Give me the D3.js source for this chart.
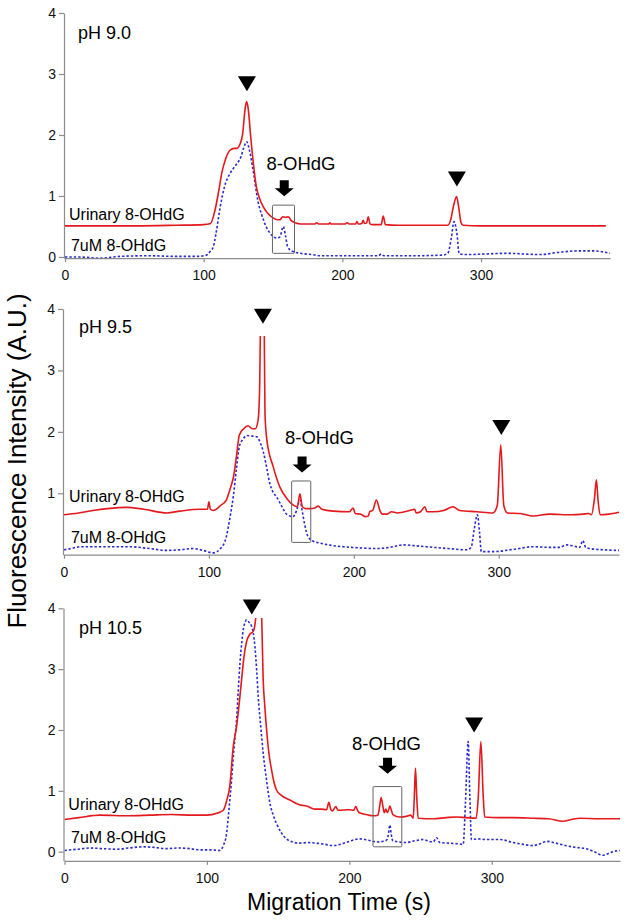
<!DOCTYPE html>
<html>
<head>
<meta charset="utf-8">
<script src="https://cdn.jsdelivr.net/npm/d3@7"></script>
<style>
  body { margin: 0; background: #fff; }
  svg { display: block; font-family: "Liberation Sans", Arial, sans-serif; }
  .axis path, .axis line { stroke: #8c8c8c; stroke-width: 1.2; }
  .axis text { fill: #111; font-size: 14px; }
  .urinary { fill: none; stroke: #e3191c; stroke-width: 1.6; }
  .standard { fill: none; stroke: #2a2ad0; stroke-width: 1.6; stroke-dasharray: 2.4,2; }
  .box { fill: none; stroke: #666; stroke-width: 1; }
</style>
</head>
<body>
<svg class="chart" width="629" height="922"></svg>
<script>
// ---- data: [migration time (s), fluorescence (A.U.)] ----
const xTicks = [0, 100, 200, 300];

const urinary90 = [[0,0.51],[20,0.51],[50,0.51],[80,0.52],[100,0.53],[105,0.55],[108,0.75],[111,1.1],[113,1.37],[116,1.62],[119,1.75],[122,1.78],[124,1.78],[126,1.84],[128,2.0],[130,2.45],[131,2.55],[132,2.45],[134,1.95],[136,1.5],[138,1.15],[140,0.98],[143,0.82],[146,0.72],[150,0.64],[153,0.61],[155,0.61],[157,0.66],[159,0.65],[161,0.66],[163,0.6],[166,0.56],[170,0.54],[180,0.54],[181.5,0.56],[183,0.54],[190,0.54],[191,0.56],[192,0.54],[202,0.54],[203.5,0.56],[205,0.54],[209.5,0.54],[210.5,0.58],[211.5,0.54],[214,0.55],[215,0.6],[216,0.55],[217.5,0.56],[218.7,0.66],[220,0.54],[222,0.53],[228,0.53],[229.5,0.67],[231,0.53],[240,0.52],[260,0.52],[276,0.52],[278,0.6],[280,0.82],[282.4,0.99],[284,0.8],[285.5,0.57],[287,0.52],[300,0.51],[330,0.51],[360,0.51],[390,0.51]];
const standard90 = [[0,0.0],[10,0.0],[25,-0.02],[40,0.01],[60,0.02],[80,0.01],[95,0.01],[102,0.03],[105,0.1],[107,0.17],[109,0.4],[112,0.83],[115,1.15],[119,1.37],[122,1.47],[124,1.53],[127,1.65],[129,1.8],[131,1.89],[133,1.75],[136,1.37],[139,0.93],[142,0.68],[145,0.5],[149,0.36],[152.6,0.31],[155,0.33],[157.4,0.5],[159,0.35],[160.5,0.17],[163.4,0.1],[170,0.06],[178,0.04],[185,0.02],[200,0.02],[220,0.02],[226,0.02],[228,0.05],[230,0.02],[250,0.02],[272,0.03],[276,0.06],[278.5,0.3],[280.5,0.58],[282.5,0.4],[284.3,0.05],[290,0.04],[318.4,0.06],[342.5,0.04],[357,0.08],[370,0.1],[381,0.1],[393,0.06]];

const urinary95 = [[0,0.65],[10,0.68],[20,0.72],[30,0.75],[43,0.77],[55,0.74],[71,0.68],[80,0.71],[94,0.74],[99,0.74],[100,0.86],[101,0.74],[103,0.72],[108,0.8],[112,0.89],[115,1.1],[117,1.27],[119,1.6],[121,1.95],[124,2.05],[127,2.1],[130,2.05],[132,2.05],[134,2.2],[135,2.7],[135.5,3.6],[136.5,5],[137.2,5],[138.2,3.6],[138.7,2.3],[140,1.87],[144.4,1.43],[149,1.1],[153.6,0.92],[158,0.81],[161,0.78],[162.8,0.99],[164.5,0.78],[167,0.75],[170,0.75],[173,0.76],[175.4,0.79],[178,0.74],[185.7,0.71],[197,0.7],[199.5,0.76],[201,0.67],[205,0.66],[207.6,0.62],[210,0.63],[211,0.7],[213,0.72],[215.6,0.89],[218,0.72],[219.5,0.66],[223,0.66],[226,0.7],[230,0.68],[238.6,0.72],[242,0.74],[243,0.68],[246,0.7],[249,0.78],[250.5,0.7],[254.7,0.7],[262,0.72],[268.5,0.78],[273,0.72],[285,0.7],[296,0.68],[299,0.8],[301.4,1.79],[303.5,0.8],[306,0.68],[315,0.67],[323.7,0.63],[335,0.66],[350,0.65],[358,0.66],[362,0.67],[364,0.65],[366,0.9],[367.4,1.22],[368.5,0.9],[370,0.65],[376,0.66],[383,0.69]];
const standard95 = [[0,0.08],[5,0.1],[11,0.13],[25,0.13],[45,0.13],[59,0.1],[71,0.07],[80,0.08],[89,0.1],[96,0.07],[103,0.03],[108,0.1],[112,0.29],[114.5,0.6],[116.8,0.94],[119,1.4],[121,1.76],[123.5,1.88],[126,1.94],[130,1.93],[133,1.92],[135.5,1.82],[137.5,1.68],[140,1.4],[142,1.16],[144,1.03],[146.7,0.94],[150,0.8],[153.6,0.66],[158,0.62],[160.5,0.72],[162.8,0.89],[164.5,0.7],[166,0.5],[168.5,0.29],[172,0.22],[176.6,0.19],[185,0.15],[192.6,0.13],[205,0.11],[215.6,0.1],[225,0.12],[234,0.16],[245,0.14],[254.7,0.12],[265,0.1],[277.7,0.08],[281,0.12],[283,0.4],[285.3,0.65],[286.8,0.35],[288,0.05],[296,0.05],[311,0.09],[323.7,0.13],[335,0.12],[342,0.12],[346.7,0.16],[352,0.14],[355.9,0.12],[358,0.23],[360,0.12],[362.8,0.1],[372,0.08],[383,0.07]];

const urinary105 = [[0,0.53],[10,0.56],[25,0.6],[45,0.59],[60,0.6],[75,0.61],[90,0.6],[100,0.6],[107,0.63],[111.4,0.68],[114,0.85],[116,1.07],[118.5,1.73],[120.8,2.06],[122.5,2.4],[124.3,2.82],[126,3.2],[127.8,3.45],[130,3.57],[132.5,3.62],[133.5,3.7],[134.4,3.9],[135.5,4.6],[137,4.8],[138.3,4.0],[139.5,2.82],[140.6,2.4],[141.9,2.0],[143.5,1.62],[145.4,1.34],[147,1.15],[148.9,1.01],[152,0.93],[158.2,0.85],[165,0.77],[170,0.75],[175.8,0.7],[180,0.7],[184,0.69],[185.6,0.81],[187,0.69],[188,0.67],[190.5,0.74],[192,0.68],[200,0.69],[203,0.68],[204.5,0.74],[206,0.67],[207,0.64],[212,0.61],[216.7,0.59],[220,0.6],[221.3,0.75],[222.3,0.89],[223.5,0.75],[224.5,0.64],[225.6,0.7],[226.6,0.64],[227.5,0.68],[228.4,0.75],[229.5,0.68],[230.5,0.61],[235.4,0.57],[240,0.58],[243,0.6],[244.8,0.55],[245.6,0.9],[246.4,1.37],[247.3,0.9],[248.3,0.55],[258.8,0.54],[268,0.56],[275,0.57],[282,0.56],[289,0.55],[290.5,0.9],[292.3,1.81],[294,0.9],[295,0.57],[305,0.56],[315,0.56],[329,0.55],[340,0.54],[350,0.5],[356,0.53],[362,0.55],[375,0.54],[390,0.54]];
const standard105 = [[0,0.02],[9,0.04],[18,0.06],[27,0.05],[36.6,0.04],[45,0.06],[55.3,0.08],[63,0.07],[71.7,0.05],[80,0.06],[88,0.05],[95,0.03],[102,0.03],[109,0.02],[111.5,0.1],[113.8,0.3],[115.5,0.7],[117.3,1.18],[119,1.7],[120.8,2.17],[122,2.65],[123.2,3.1],[124.5,3.45],[125.5,3.65],[126.8,3.77],[127.8,3.81],[129.5,3.77],[131.4,3.7],[132.5,3.6],[133.7,3.37],[135,2.95],[136,2.55],[137.8,2.05],[139.5,1.62],[142,1.15],[144.2,0.8],[146.5,0.6],[148.9,0.46],[152,0.32],[155.9,0.21],[160,0.16],[165,0.14],[171,0.15],[177,0.14],[183,0.12],[188.6,0.1],[195,0.13],[200,0.17],[207.4,0.21],[213,0.19],[219,0.16],[224,0.17],[226.5,0.2],[227.5,0.3],[228.4,0.44],[229.3,0.3],[230.5,0.18],[235,0.16],[240,0.15],[246,0.18],[251.8,0.2],[256,0.17],[258.8,0.16],[261.2,0.23],[263.5,0.15],[270,0.14],[276,0.13],[279.9,0.12],[281.5,0.8],[283.4,1.81],[284.6,0.9],[285.7,0.2],[290,0.21],[296,0.2],[305.6,0.2],[315,0.15],[322,0.12],[329,0.1],[334,0.13],[338.4,0.17],[345,0.14],[352,0.1],[359,0.07],[366,0.05],[372,0.0],[378,-0.06],[382,-0.03],[385,0.0],[390,0.02]];

// peak markers (triangles) and the 8-OHdG window [t0, t1, v0, v1]
const peaks90 = [[131.2,2.84],[282.6,1.28]];
const peaks95 = [[137.3,3.88],[301.8,2.07]];
const peaks105 = [[131.5,4.02],[287.6,2.08]];
const window90 = [149.6,165.5,0.06,0.85];
const window95 = [157.1,170.3,0.2,1.2];
const window105 = [216.6,236.8,0.08,1.07];

const svg = d3.select('svg.chart');

const panels = [
  {name:'pH 9.0', urinary:urinary90, standard:standard90, peaks:peaks90, win:window90,
   xMax:393, yMin:-0.02, yTicks:[0,1,2,3,4], clipTop:4.5,
   left:65, right:610, top:13, bottom:258.2,
   arrow:[158.1,1.26], tag:[170.2,1.43], title:[9.4,3.57], uLab:[2.9,0.6], sLab:[4.3,0.09]},
  {name:'pH 9.5', urinary:urinary95, standard:standard95, peaks:peaks95, win:window95,
   xMax:383, yMin:0, yTicks:[1,2,3,4], clipTop:3.56,
   left:64, right:619, top:309, bottom:554.7,
   arrow:[164.3,1.6], tag:[176.3,1.81], title:[10.4,3.61], uLab:[3.5,0.86], sLab:[4.8,0.19]},
  {name:'pH 10.5', urinary:urinary105, standard:standard105, peaks:peaks105, win:window105,
   xMax:390, yMin:-0.15, yTicks:[0,1,2,3,4], clipTop:3.84,
   left:64.5, right:620, top:608.3, bottom:860.8,
   arrow:[226.8,1.545], tag:[226,1.67], title:[10.2,3.57], uLab:[2.7,0.685], sLab:[4.6,0.14]}
];

function drawPanel(p, i){
  const x = d3.scaleLinear().domain([0, p.xMax]).range([p.left, p.right]);
  const y = d3.scaleLinear().domain([p.yMin, 4]).range([p.bottom, p.top]);
  const g = svg.append('g').attr('class', 'panel');

  g.append('g').attr('class', 'axis')
    .attr('transform', `translate(0,${p.bottom})`)
    .call(d3.axisBottom(x).tickValues(xTicks).tickSize(4).tickSizeOuter(0).tickPadding(8).tickFormat(d3.format('d')))
  g.append('g').attr('class', 'axis')
    .attr('transform', `translate(${p.left - 1},0)`)
    .call(d3.axisLeft(y).tickValues(p.yTicks).tickSize(5).tickSizeOuter(0).tickPadding(3).tickFormat(d3.format('d')))

  svg.append('clipPath').attr('id', 'clip' + i)
    .append('rect')
    .attr('x', p.left).attr('width', p.right - p.left + 2)
    .attr('y', y(p.clipTop)).attr('height', p.bottom - y(p.clipTop));

  const line = d3.line()
    .x(d => x(d[0]))
    .y(d => y(d[1]))
    .curve(d3.curveMonotoneX);

  const traces = g.append('g').attr('clip-path', `url(#clip${i})`);
  traces.append('path').datum(p.standard).attr('class', 'standard').attr('d', line);
  traces.append('path').datum(p.urinary).attr('class', 'urinary').attr('d', line);

  // 8-OHdG window
  g.append('rect').attr('class', 'box')
    .attr('x', x(p.win[0])).attr('y', y(p.win[3]))
    .attr('width', x(p.win[1]) - x(p.win[0]))
    .attr('height', y(p.win[2]) - y(p.win[3]))
    .attr('rx', 1);

  // triangles
  g.selectAll('path.peak').data(p.peaks).enter()
    .append('path').attr('class', 'peak')
    .attr('d', d => {
      const cx = x(d[0]), cy = y(d[1]);
      return `M${cx-9},${cy-7.5}L${cx+9},${cy-7.5}L${cx},${cy+7.5}Z`;
    })
    .attr('fill', '#000');

  // block arrow
  const ax = x(p.arrow[0]), ay = y(p.arrow[1]);
  g.append('path')
    .attr('d', `M${ax-4.5},${ay}L${ax+4.5},${ay}L${ax+4.5},${ay+8}L${ax+9.5},${ay+8}L${ax},${ay+16}L${ax-9.5},${ay+8}L${ax-4.5},${ay+8}Z`)
    .attr('fill', '#000');

  g.append('text').attr('x', x(p.tag[0])).attr('y', y(p.tag[1]))
    .attr('text-anchor', 'middle').style('font-size', '18.5px').text('8-OHdG');
  g.append('text').attr('x', x(p.title[0])).attr('y', y(p.title[1]))
    .style('font-size', '18px').text(p.name);
  g.append('text').attr('x', x(p.uLab[0])).attr('y', y(p.uLab[1]))
    .style('font-size', '16px').text('Urinary 8-OHdG');
  g.append('text').attr('x', x(p.sLab[0])).attr('y', y(p.sLab[1]))
    .style('font-size', '16px').text('7uM 8-OHdG');
}

panels.forEach(drawPanel)

svg.append('text')
  .attr('transform', 'translate(26,461) rotate(-90)')
  .attr('text-anchor', 'middle')
  .style('font-size', '26px')
  .text('Fluorescence Intensity (A.U.)');

svg.append('text')
  .attr('x', 339).attr('y', 910)
  .attr('text-anchor', 'middle')
  .style('font-size', '23px')
  .text('Migration Time (s)');
</script>
</body>
</html>
